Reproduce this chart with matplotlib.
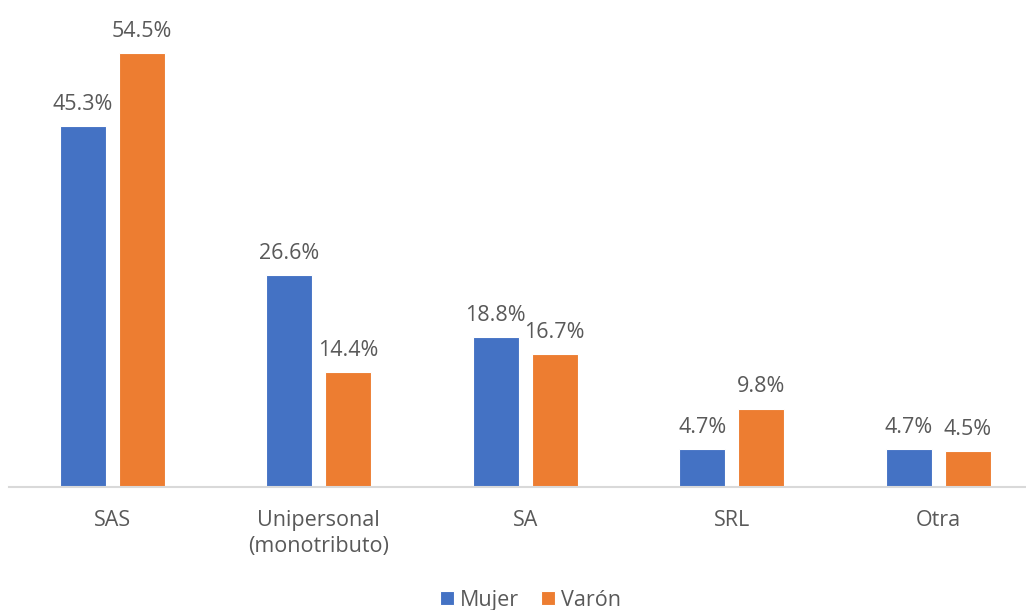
import numpy as np
import matplotlib.pyplot as plt

categories = ['SAS', 'Unipersonal\n(monotributo)', 'SA', 'SRL', 'Otra']
mujer = [45.3, 26.6, 18.8, 4.7, 4.7]
varon = [54.5, 14.4, 16.7, 9.8, 4.5]

plt.rcParams['font.family'] = ['Open Sans', 'DejaVu Sans']
gray = '#595959'

fig = plt.figure(figsize=(10.26, 6.10), dpi=100)
# axes from x=9px to the right edge, baseline at y=486px
ax = fig.add_axes([9/1026, 1 - 486.5/610, 1017/1026, 477/610])

x = np.arange(len(categories))
w = 0.223
off = 0.143
b1 = ax.bar(x - off, mujer, w, color='#4472C4', edgecolor='white', linewidth=0.8, label='Mujer')
b2 = ax.bar(x + off, varon, w, color='#ED7D31', edgecolor='white', linewidth=0.8, label='Varón')

for bars, vals in ((b1, mujer), (b2, varon)):
    for r, v in zip(bars, vals):
        ax.annotate(f'{v:.1f}%', (r.get_x() + r.get_width()/2, v),
                    xytext=(0, 8), textcoords='offset points',
                    ha='center', va='bottom', fontsize=15.5, color=gray)

ax.set_xlim(-0.5, -0.5 + 1017/206.5)
ax.set_ylim(0, 60)
ax.set_yticks([])
ax.set_xticks(x)
ax.set_xticklabels(categories, fontsize=15.5, color=gray, linespacing=1.3)
ax.tick_params(axis='x', length=0, pad=17)
for s in ('top', 'right', 'left'):
    ax.spines[s].set_visible(False)
ax.spines['bottom'].set_color('#D9D9D9')
ax.spines['bottom'].set_linewidth(1.5)

fig.legend(handles=[b1, b2], loc='center', bbox_to_anchor=(0.517, 0.016), ncol=2,
           frameon=False, fontsize=15.5, labelcolor=gray, handlelength=0.65,
           handleheight=0.65, handletextpad=0.3, columnspacing=1.0)

fig.savefig('out.png', dpi=100)
